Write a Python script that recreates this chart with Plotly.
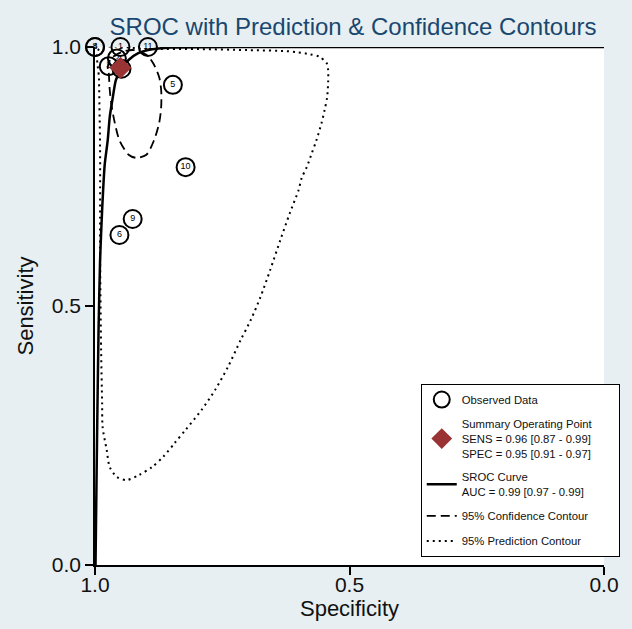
import plotly.graph_objects as go

# ---- data ----
study_labels = ["1", "2", "3", "4", "5", "6", "7", "8", "9", "10", "11"]
study_spec = [0.950, 0.957, 0.973, 1.000, 0.847, 0.952, 0.948, 1.000, 0.926, 0.822, 0.896]
study_sens = [1.000, 0.978, 0.963, 1.000, 0.927, 0.637, 0.958, 1.000, 0.668, 0.768, 1.000]

summary_spec = [0.95]
summary_sens = [0.96]

sroc_spec = [0.999, 0.997, 0.995, 0.993, 0.990, 0.986, 0.981, 0.975, 0.971, 0.965,
             0.959, 0.948, 0.934, 0.915, 0.896, 0.876, 0.851, 0.700, 0.0]
sroc_sens = [0.000, 0.164, 0.319, 0.454, 0.589, 0.685, 0.772, 0.820, 0.865, 0.903,
             0.936, 0.959, 0.975, 0.988, 0.994, 0.997, 0.999, 1.000, 1.000]

conf_spec = [0.975, 0.973, 0.971, 0.967, 0.961, 0.952, 0.934, 0.919, 0.899, 0.884, 0.874,
             0.870, 0.870, 0.874, 0.886, 0.899, 0.923, 0.942, 0.957, 0.969, 0.975]
conf_sens = [0.961, 0.950, 0.917, 0.884, 0.853, 0.820, 0.792, 0.786, 0.792, 0.820, 0.853,
             0.884, 0.917, 0.942, 0.969, 0.985, 0.994, 0.992, 0.986, 0.977, 0.961]

pred_spec = [0.992, 0.894, 0.797, 0.700, 0.623, 0.603, 0.578, 0.559, 0.545, 0.542, 0.542,
             0.544, 0.549, 0.555, 0.565, 0.574, 0.584, 0.594, 0.600, 0.617, 0.636, 0.656,
             0.675, 0.694, 0.714, 0.739, 0.764, 0.791, 0.822, 0.843, 0.865, 0.888, 0.913,
             0.938, 0.957, 0.971, 0.977, 0.985, 0.986, 0.988, 0.990, 0.990, 0.992, 0.992]
pred_sens = [0.996, 0.996, 0.996, 0.994, 0.992, 0.990, 0.986, 0.981, 0.969, 0.956, 0.931,
             0.903, 0.878, 0.853, 0.820, 0.795, 0.768, 0.747, 0.724, 0.680, 0.627, 0.569,
             0.517, 0.473, 0.434, 0.382, 0.338, 0.299, 0.261, 0.236, 0.210, 0.189, 0.174,
             0.164, 0.170, 0.189, 0.222, 0.266, 0.313, 0.415, 0.608, 0.801, 0.936, 0.996]

tick_vals = [1.0, 0.5, 0.0]
tick_text = ["1.0", "0.5", "0.0"]

FONT = "Liberation Sans, Arial, Helvetica, sans-serif"
NB = "\u00a0"

fig = go.Figure()

fig.add_trace(go.Scatter(
    x=pred_spec, y=pred_sens, mode="lines", name="95% Prediction Contour",
    line=dict(color="black", width=2, dash="2px,4px", shape="spline", smoothing=0.8),
    cliponaxis=False, legendgroup="e", legendrank=5))

fig.add_trace(go.Scatter(
    x=conf_spec, y=conf_sens, mode="lines", name="95% Confidence Contour",
    line=dict(color="black", width=1.8, dash="9px,5px", shape="spline", smoothing=0.8),
    cliponaxis=False, legendgroup="d", legendrank=4))

fig.add_trace(go.Scatter(
    x=sroc_spec, y=sroc_sens, mode="lines", name="SROC Curve<br>AUC = 0.99 [0.97 - 0.99]",
    line=dict(color="black", width=2.5, shape="spline", smoothing=0.6),
    cliponaxis=False, legendgroup="c", legendrank=3))

fig.add_trace(go.Scatter(
    x=study_spec, y=study_sens, mode="markers", name="Observed Data",
    marker=dict(symbol="circle-open", size=18, color="black", line=dict(width=2, color="black")),
    cliponaxis=False, legendgroup="a", legendrank=1))

fig.add_trace(go.Scatter(
    x=study_spec, y=study_sens, mode="text", text=study_labels,
    textfont=dict(size=9, color="black", family=FONT), textposition="middle center",
    cliponaxis=False, showlegend=False))

fig.add_trace(go.Scatter(
    x=summary_spec, y=summary_sens, mode="markers",
    name="Summary Operating Point" + NB * 7 + "<br>SENS = 0.96 [0.87 - 0.99]<br>SPEC = 0.95 [0.91 - 0.97]",
    marker=dict(symbol="diamond", size=17, color="#9a3434"),
    cliponaxis=False, legendgroup="b", legendrank=2))

axis_common = dict(
    tickmode="array", tickvals=tick_vals, ticktext=tick_text,
    ticks="outside", ticklen=8, tickwidth=1.5, tickcolor="black",
    showline=True, linecolor="black", linewidth=1.5,
    showgrid=False, zeroline=False,
    tickfont=dict(size=21, color="#111", family=FONT),
)

fig.update_layout(
    width=632, height=629,
    margin=dict(l=95, r=20, t=47, b=64),
    paper_bgcolor="#e7eff2", plot_bgcolor="white",
    font=dict(family=FONT, color="black"),
    title=dict(text="SROC with Prediction & Confidence Contours",
               x=0.507, xref="paper", xanchor="center",
               y=1 - 27 / 629, yref="container", yanchor="middle",
               font=dict(size=24, color="#1a476f", family=FONT)),
    xaxis=dict(range=[1, 0], ticklabelstandoff=-8,
               title=dict(text="Specificity", font=dict(size=22, color="#111"), standoff=0),
               **axis_common),
    yaxis=dict(range=[0, 1],
               title=dict(text="Sensitivity", font=dict(size=22, color="#111"), standoff=12),
               **axis_common),
    legend=dict(x=0.64, y=0.0154, xanchor="left", yanchor="bottom",
                bgcolor="white", bordercolor="black", borderwidth=1,
                font=dict(size=11.3, family=FONT, color="#111"),
                tracegroupgap=6, itemwidth=30, traceorder="grouped"),
    showlegend=True,
)

fig.write_html("out.html")
